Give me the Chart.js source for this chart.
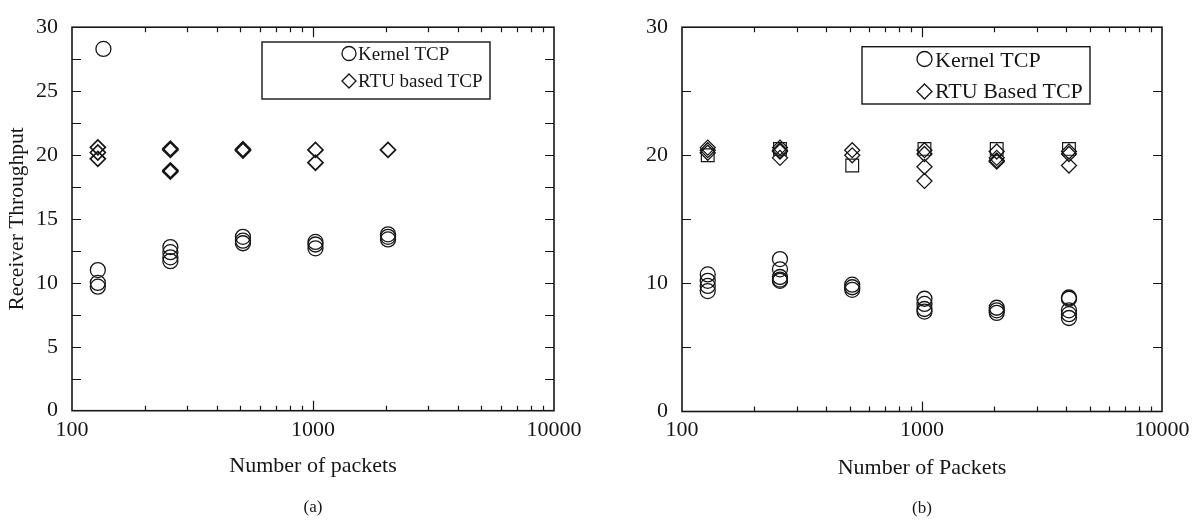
<!DOCTYPE html>
<html>
<head>
<meta charset="utf-8">
<script src="https://cdn.jsdelivr.net/npm/chart.js@4.4.1/dist/chart.umd.min.js"></script>
<style>
  html, body { margin: 0; padding: 0; background: #ffffff; }
  #wrap { position: relative; width: 1199px; height: 521px; overflow: hidden; background: #fff; }
  canvas { position: absolute; top: 0; }
  #ca { left: 0; }
  #cb { left: 600px; }
</style>
</head>
<body>
<div id="wrap">
  <canvas id="ca" width="600" height="521"></canvas>
  <canvas id="cb" width="599" height="521"></canvas>
</div>
<script>
// ---------------- data ----------------
const xTickLabels = [100, 1000, 10000];
const xMinorTicks = [200, 300, 400, 500, 600, 700, 800, 900, 2000, 3000, 4000, 5000, 6000, 7000, 8000, 9000];
const xMajorTicks = [1000];

const aYTicks = [2.5, 5, 7.5, 10, 12.5, 15, 17.5, 20, 22.5, 25, 27.5];
const bYTicks = [5, 10, 15, 20, 25];

const seriesNames = ['Kernel TCP', 'RTU based TCP'];
const seriesNamesB = ['Kernel TCP', 'RTU Based TCP', 'Unlabelled (square)'];

// Chart (a)
const aKernelX = [135, 128, 128, 128, 256, 256, 256, 256, 512, 512, 512, 1024, 1024, 1024, 2048, 2048, 2048];
const aKernelY = [28.3, 11.0, 10.0, 9.7, 12.8, 12.4, 12.0, 11.7, 13.6, 13.3, 13.1, 13.2, 13.0, 12.7, 13.8, 13.6, 13.4];
const aRtuX = [128, 128, 128, 256, 256, 256, 256, 512, 512, 1024, 1024, 2048];
const aRtuY = [20.6, 20.2, 19.7, 20.5, 20.4, 18.8, 18.7, 20.45, 20.35, 20.4, 19.4, 20.4];

// Chart (b)
const bKernelX = [128, 128, 128, 128, 256, 256, 256, 256, 256, 512, 512, 512, 1024, 1024, 1024, 1024, 2048, 2048, 2048, 4096, 4096, 4096, 4096, 4096];
const bKernelY = [10.7, 10.2, 9.8, 9.4, 11.9, 11.1, 10.5, 10.3, 10.2, 9.9, 9.7, 9.5, 8.8, 8.4, 8.0, 7.8, 8.1, 7.9, 7.7, 8.9, 8.8, 7.9, 7.6, 7.3];
const bRtuX = [128, 128, 128, 256, 256, 256, 256, 512, 512, 1024, 1024, 1024, 1024, 2048, 2048, 2048, 2048, 4096, 4096, 4096];
const bRtuY = [20.6, 20.4, 20.2, 20.6, 20.4, 20.3, 19.8, 20.4, 20.0, 20.4, 20.1, 19.1, 18.0, 20.3, 19.8, 19.6, 19.5, 20.3, 20.1, 19.2];
const bSqX = [128, 256, 512, 1024, 2048, 4096];
const bSqY = [20.0, 20.5, 19.2, 20.5, 20.5, 20.5];

// ---------------- styling ----------------
const INK = '#161616';
const FONT = "'Liberation Serif', 'DejaVu Serif', 'Times New Roman', serif";
Chart.defaults.font.family = FONT;
Chart.defaults.color = INK;

const pts = (xs, ys) => xs.map((x, i) => ({ x: x, y: ys[i] }));

function ds(label, xs, ys, style, radius, width, inLegend) {
  return {
    label: label,
    data: pts(xs, ys),
    pointStyle: style,
    pointRadius: radius,
    pointHoverRadius: radius,
    pointBorderWidth: width,
    pointBorderColor: INK,
    pointBackgroundColor: 'rgba(0,0,0,0)',
    borderColor: INK,
    backgroundColor: 'rgba(0,0,0,0)',
    showLine: false,
    inLegend: inLegend
  };
}

// frame + inward ticks on all four sides
const frameTicks = {
  id: 'frameTicks',
  beforeDatasetsDraw(chart, args, o) {
    const { ctx, chartArea: a, scales: { x, y } } = chart;
    ctx.save();
    ctx.strokeStyle = INK;
    ctx.lineWidth = 1.6;
    ctx.strokeRect(a.left, a.top, a.right - a.left, a.bottom - a.top);
    ctx.lineWidth = 1.2;
    ctx.beginPath();
    const xt = (vals, len) => vals.forEach(v => {
      const p = Math.round(x.getPixelForValue(v)) + 0.5;
      ctx.moveTo(p, a.bottom); ctx.lineTo(p, a.bottom - len);
      ctx.moveTo(p, a.top); ctx.lineTo(p, a.top + len);
    });
    xt(o.xMinor, o.minorLen);
    xt(o.xMajor, o.majorLen);
    o.yTicks.forEach(v => {
      const p = Math.round(y.getPixelForValue(v)) + 0.5;
      ctx.moveTo(a.left, p); ctx.lineTo(a.left + o.yLen, p);
      ctx.moveTo(a.right, p); ctx.lineTo(a.right - o.yLen, p);
    });
    ctx.stroke();
    ctx.restore();
  }
};

// boxed legend inside the plot
const boxLegend = {
  id: 'boxLegend',
  afterDatasetsDraw(chart, args, o) {
    const { ctx } = chart;
    ctx.save();
    ctx.fillStyle = '#ffffff';
    ctx.fillRect(o.box[0], o.box[1], o.box[2] - o.box[0], o.box[3] - o.box[1]);
    ctx.strokeStyle = INK;
    ctx.lineWidth = 1.4;
    ctx.strokeRect(o.box[0], o.box[1], o.box[2] - o.box[0], o.box[3] - o.box[1]);
    const items = chart.data.datasets.filter(d => d.inLegend);
    ctx.font = o.fontSize + 'px ' + FONT;
    ctx.textBaseline = 'middle';
    ctx.textAlign = 'left';
    items.forEach((d, i) => {
      const sy = o.symY[i], sx = o.symX, r = o.symR;
      ctx.lineWidth = 1.3;
      ctx.beginPath();
      if (d.pointStyle === 'circle') {
        ctx.arc(sx, sy, r, 0, Math.PI * 2);
      } else {
        ctx.moveTo(sx - r, sy); ctx.lineTo(sx, sy - r);
        ctx.lineTo(sx + r, sy); ctx.lineTo(sx, sy + r); ctx.closePath();
      }
      ctx.stroke();
      ctx.fillStyle = INK;
      ctx.fillText(d.label, o.textX, o.textY[i]);
    });
    ctx.restore();
  }
};

function makeChart(el, c) {
  return new Chart(el, {
    type: 'scatter',
    data: { datasets: c.datasets },
    options: {
      responsive: false,
      animation: false,
      devicePixelRatio: 1,
      events: [],
      layout: { padding: c.padding },
      plugins: {
        legend: { display: false },
        tooltip: { enabled: false },
        subtitle: {
          display: true, position: 'bottom', fullSize: false, text: c.caption,
          color: INK, font: { family: FONT, size: 17, weight: 'normal' },
          padding: { top: c.captionPad, bottom: 0 }
        },
        frameTicks: { xMinor: xMinorTicks, xMajor: xMajorTicks, yTicks: c.yTicks, minorLen: 5, majorLen: 10, yLen: 9 },
        boxLegend: c.legend
      },
      scales: {
        x: {
          type: 'logarithmic', min: 100, max: 10000,
          grid: { display: false, drawTicks: false },
          border: { display: false },
          afterBuildTicks: s => { s.ticks = xTickLabels.map(v => ({ value: v })); },
          ticks: {
            autoSkip: false, maxRotation: 0, padding: 6, color: INK,
            font: { family: FONT, size: 22 },
            callback: v => String(v)
          },
          title: {
            display: true, text: c.xTitle, color: INK,
            font: { family: FONT, size: 22 },
            padding: { top: c.xTitlePad, bottom: 0 }
          }
        },
        y: {
          min: 0, max: 30,
          grid: { display: false, drawTicks: false },
          border: { display: false },
          afterFit: s => { s.width = c.yWidth; },
          ticks: { stepSize: c.yStep, padding: 14, color: INK, font: { family: FONT, size: 22 } },
          title: {
            display: !!c.yTitle, text: c.yTitle || '', color: INK,
            font: { family: FONT, size: 21.5 },
            padding: { top: 4, bottom: 0 }
          }
        }
      }
    },
    plugins: [frameTicks, boxLegend]
  });
}

makeChart(document.getElementById('ca'), {
  datasets: [
    ds(seriesNames[0], aKernelX, aKernelY, 'circle', 7.5, 1.3, true),
    ds(seriesNames[1], aRtuX, aRtuY, 'rectRot', 7.5, 1.7, true)
  ],
  padding: { left: 0, right: 46, top: 16.7, bottom: 2.8 },
  caption: '(a)', captionPad: 18.6,
  xTitle: 'Number of packets', xTitlePad: 3.7,
  yTitle: 'Receiver Throughput', yWidth: 72, yStep: 5, yTicks: aYTicks,
  legend: { box: [262, 42, 490, 99], symX: 349, symR: 7, symY: [53.5, 81], textX: 358, textY: [55.5, 82.5], fontSize: 19 }
});

makeChart(document.getElementById('cb'), {
  datasets: [
    ds(seriesNamesB[0], bKernelX, bKernelY, 'circle', 7.5, 1.3, true),
    ds(seriesNamesB[1], bRtuX, bRtuY, 'rectRot', 7.5, 1.3, true),
    ds(seriesNamesB[2], bSqX, bSqY, 'rect', 9, 1.2, false)
  ],
  padding: { left: 0, right: 37, top: 20, bottom: 1.8 },
  caption: '(b)', captionPad: 17.6,
  xTitle: 'Number of Packets', xTitlePad: 4.9,
  yTitle: '', yWidth: 82, yStep: 10, yTicks: bYTicks,
  legend: { box: [262, 46.7, 490, 104], symX: 324.5, symR: 7.5, symY: [59, 91.5], textX: 335, textY: [61.5, 92.5], fontSize: 22 }
});
</script>
</body>
</html>
